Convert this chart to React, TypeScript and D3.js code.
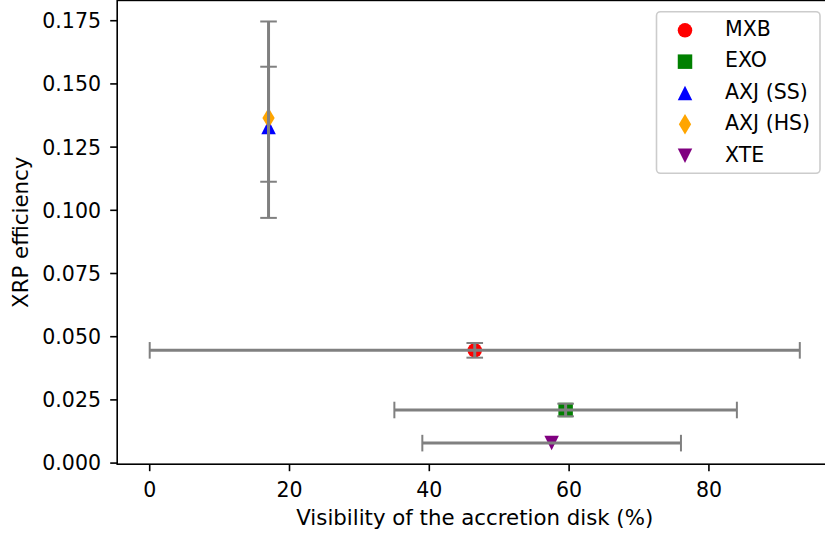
import React from "react";
import * as d3 from "d3";

// sources
const names = ["MXB", "EXO", "AXJ (SS)", "AXJ (HS)", "XTE"];
const colors = ["#ff0000", "#008000", "#0000ff", "#ffa500", "#800080"];
const markers = ["circle", "square", "triangleUp", "thinDiamond", "triangleDown"];
const visibility = [46.5, 59.5, 17, 17, 57.5];
const visibilityErr = [46.5, 24.5, 0, 0, 18.5];
const efficiency = [0.0446, 0.021, 0.133, 0.1365, 0.0079];
const efficiencyErrLow = [0.0029, 0.0025, 0.036, 0.0252, 0];
const efficiencyErrHigh = [0.0029, 0.0025, 0.0417, 0.0203, 0];

const xTicks = [0, 20, 40, 60, 80];
const yTicks = [0, 0.025, 0.05, 0.075, 0.1, 0.125, 0.15, 0.175];

const W = 825;
const H = 535;
const plot = { left: 117.2, right: 832.3, top: 0.4, bottom: 464.2 };
const FONT = "'DejaVu Sans', sans-serif";
const FS = 20.5;
const LABEL_FS = 21.3;
const U = 14.5; // marker unit size in px
const GRAY = "#808080";

function markerPath(kind: string, cx: number, cy: number): string {
  const h = U / 2;
  switch (kind) {
    case "square":
      return `M${cx - h},${cy - h}h${U}v${U}h${-U}Z`;
    case "triangleUp":
      return `M${cx},${cy - h}L${cx + h},${cy + h}L${cx - h},${cy + h}Z`;
    case "triangleDown":
      return `M${cx},${cy + h}L${cx + h},${cy - h}L${cx - h},${cy - h}Z`;
    case "thinDiamond": {
      const dy = U * 0.707;
      const dx = dy * 0.6;
      return `M${cx},${cy - dy}L${cx + dx},${cy}L${cx},${cy + dy}L${cx - dx},${cy}Z`;
    }
    default:
      return `M${cx - h},${cy}a${h},${h} 0 1,0 ${U},0a${h},${h} 0 1,0 ${-U},0Z`;
  }
}

const App = () => {
  // data limits with matplotlib's 5% margins
  const xLo = d3.min(visibility.map((v, i) => v - visibilityErr[i]))!;
  const xHi = d3.max(visibility.map((v, i) => v + visibilityErr[i]))!;
  const yLo = d3.min(efficiency.map((v, i) => v - efficiencyErrLow[i]))!;
  const yHi = d3.max(efficiency.map((v, i) => v + efficiencyErrHigh[i]))!;
  const xm = (xHi - xLo) * 0.05;
  const ym = (yHi - yLo) * 0.05;

  const x = d3.scaleLinear().domain([xLo - xm, xHi + xm]).range([plot.left, plot.right]);
  const y = d3.scaleLinear().domain([yLo - ym, yHi + ym]).range([plot.bottom, plot.top]);

  const cap = 8.3;

  return (
    <svg
      width={W}
      height={H}
      style={{ position: "absolute", left: 0, top: 0, background: "#fff" }}
      fontFamily={FONT}
    >
      <rect x={0} y={0} width={W} height={H} fill="#fff" />

      {/* markers */}
      {names.map((n, i) => (
        <path
          key={n}
          d={markerPath(markers[i], x(visibility[i]), y(efficiency[i]))}
          fill={colors[i]}
        />
      ))}

      {/* error bars, drawn over the markers */}
      {names.map((n, i) => {
        const cx = x(visibility[i]);
        const cy = y(efficiency[i]);
        const parts: React.ReactNode[] = [];
        if (visibilityErr[i] > 0) {
          const x0 = x(visibility[i] - visibilityErr[i]);
          const x1 = x(visibility[i] + visibilityErr[i]);
          parts.push(<line key="h" x1={x0} x2={x1} y1={cy} y2={cy} stroke={GRAY} strokeWidth={3} />);
          parts.push(<line key="hc0" x1={x0} x2={x0} y1={cy - cap} y2={cy + cap} stroke={GRAY} strokeWidth={2} />);
          parts.push(<line key="hc1" x1={x1} x2={x1} y1={cy - cap} y2={cy + cap} stroke={GRAY} strokeWidth={2} />);
        }
        if (efficiencyErrLow[i] > 0 || efficiencyErrHigh[i] > 0) {
          const y0 = y(efficiency[i] - efficiencyErrLow[i]);
          const y1 = y(efficiency[i] + efficiencyErrHigh[i]);
          parts.push(<line key="v" x1={cx} x2={cx} y1={y0} y2={y1} stroke={GRAY} strokeWidth={3} />);
          parts.push(<line key="vc0" x1={cx - cap} x2={cx + cap} y1={y0} y2={y0} stroke={GRAY} strokeWidth={2} />);
          parts.push(<line key="vc1" x1={cx - cap} x2={cx + cap} y1={y1} y2={y1} stroke={GRAY} strokeWidth={2} />);
        }
        return <g key={n}>{parts}</g>;
      })}

      {/* axes frame */}
      <rect
        x={plot.left}
        y={plot.top}
        width={plot.right - plot.left}
        height={plot.bottom - plot.top}
        fill="none"
        stroke="#000"
        strokeWidth={1.6}
      />

      {/* x ticks */}
      {xTicks.map((t) => (
        <g key={t}>
          <line x1={x(t)} x2={x(t)} y1={plot.bottom} y2={plot.bottom + 7} stroke="#000" strokeWidth={1.6} />
          <text x={x(t)} y={497} textAnchor="middle" fontSize={FS}>
            {t}
          </text>
        </g>
      ))}

      {/* y ticks */}
      {yTicks.map((t) => (
        <g key={t}>
          <line x1={plot.left - 7} x2={plot.left} y1={y(t)} y2={y(t)} stroke="#000" strokeWidth={1.6} />
          <text x={101} y={y(t) + 7.4} textAnchor="end" fontSize={FS}>
            {d3.format(".3f")(t)}
          </text>
        </g>
      ))}

      <text x={(plot.left + plot.right) / 2} y={525} textAnchor="middle" fontSize={LABEL_FS}>
        Visibility of the accretion disk (%)
      </text>
      <text
        transform={`translate(28,${(plot.top + plot.bottom) / 2}) rotate(-90)`}
        textAnchor="middle"
        fontSize={LABEL_FS}
      >
        XRP efficiency
      </text>

      {/* legend */}
      <g>
        <rect
          x={656.5}
          y={11.7}
          width={163.5}
          height={161.6}
          rx={4}
          fill="#fff"
          fillOpacity={0.8}
          stroke="#cccccc"
          strokeWidth={1.6}
        />
        {names.map((n, i) => {
          const ry = 30.3 + i * 31.35;
          return (
            <g key={n}>
              <path d={markerPath(markers[i], 685, ry)} fill={colors[i]} />
              <text x={725} y={ry + 5.8} fontSize={FS}>
                {n}
              </text>
            </g>
          );
        })}
      </g>
    </svg>
  );
};

export default App;
